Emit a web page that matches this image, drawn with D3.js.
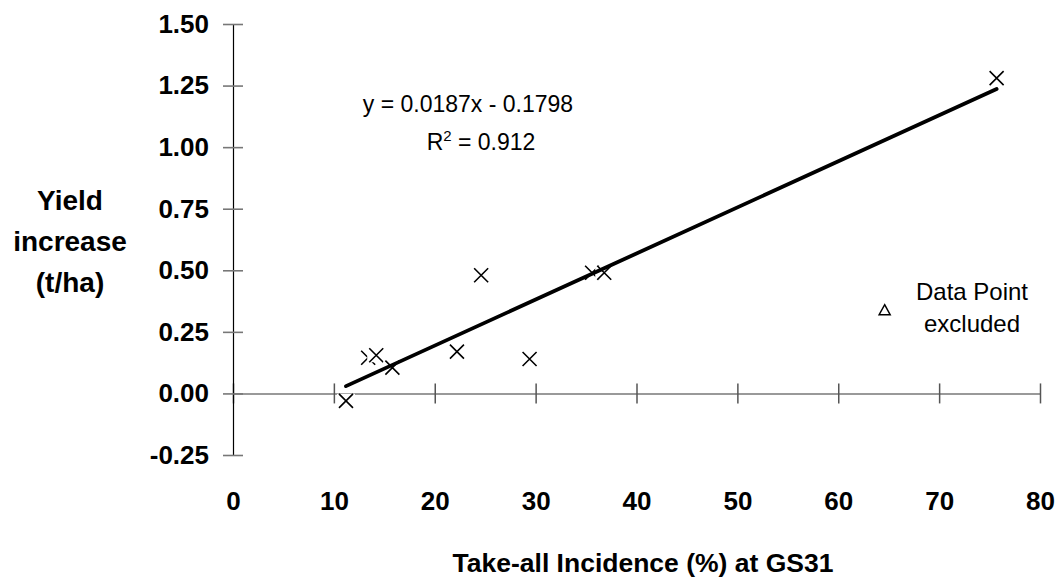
<!DOCTYPE html>
<html>
<head>
<meta charset="utf-8">
<script src="https://cdn.jsdelivr.net/npm/d3@7"></script>
<style>
  body { margin: 0; background: #fff; }
  svg { display: block; font-family: 'Liberation Sans', Arial, sans-serif; }
</style>
</head>
<body>
<svg id="chart" width="1058" height="580"></svg>
<script>
'use strict';

// take-all incidence (%) and yield increase (t/ha)
var incidence = [11.2, 13.4, 14.2, 15.8, 22.2, 24.6, 29.4, 35.6, 36.8, 75.7];
var yieldInc = [-0.03, 0.145, 0.155, 0.105, 0.17, 0.48, 0.14, 0.49, 0.49, 1.28];
var excludedX = [64.6];
var excludedY = [0.34];
var xTicks = [0, 10, 20, 30, 40, 50, 60, 70, 80];
var yTicks = [-0.25, 0, 0.25, 0.5, 0.75, 1.0, 1.25, 1.5];
var slope = 0.0187, intercept = -0.1798;

var svg = d3.select('#chart');

var x = d3.scaleLinear().domain([0, 80]).range([233, 1040]);
var y = d3.scaleLinear().domain([-0.25, 1.5]).range([455, 24]);

// x axis through y = 0, ticks crossing the line
var gx = svg.append('g')
  .attr('transform', 'translate(0,' + y(0) + ')')
  .call(d3.axisBottom(x).tickValues(xTicks).tickSizeOuter(0).tickFormat(''));
gx.select('.domain').attr('stroke', '#777').attr('stroke-width', 1.6);
gx.selectAll('.tick line').attr('y1', -10).attr('y2', 10)
  .attr('stroke', '#555').attr('stroke-width', 1.5);

// y axis at x = 0
var gy = svg.append('g')
  .attr('transform', 'translate(' + x(0) + ',0)')
  .call(d3.axisLeft(y).tickValues(yTicks).tickSizeOuter(0).tickFormat(''));
gy.select('.domain').attr('stroke', '#000').attr('stroke-width', 1.2);
gy.selectAll('.tick line').attr('x1', -10).attr('x2', 10)
  .attr('stroke', '#777').attr('stroke-width', 1.6);

// tick labels sit away from the axes
var lx = svg.append('g')
  .attr('transform', 'translate(0,492)')
  .call(d3.axisBottom(x).tickValues(xTicks).tickSize(0).tickPadding(0).tickFormat(d3.format('d')));
lx.select('.domain').remove();

var fmt2 = d3.format('.2f');
var ly = svg.append('g')
  .attr('transform', 'translate(209,0)')
  .call(d3.axisLeft(y).tickValues(yTicks).tickSize(0).tickPadding(0)
    .tickFormat(function (d) { return fmt2(d).replace('\u2212', '-'); }));
ly.select('.domain').remove();

svg.selectAll('.tick text')
  .attr('fill', '#000')
  .style('font-size', '26px')
  .style('font-weight', 'bold')
  .style('font-family', "'Liberation Sans', Arial, sans-serif");

// points: white box behind each cross, like the original
var pts = d3.range(incidence.length).map(function (i) {
  return { x: incidence[i], y: yieldInc[i] };
});
var mk = svg.append('g').selectAll('g').data(pts).join('g')
  .attr('transform', function (d) { return 'translate(' + x(d.x) + ',' + y(d.y) + ')'; });
mk.append('rect')
  .attr('x', -9).attr('y', -7).attr('width', 18).attr('height', 14)
  .attr('fill', '#fff');
mk.append('path')
  .attr('d', 'M-7,-7L7,7M-7,7L7,-7')
  .attr('stroke', '#000').attr('stroke-width', 1.6).attr('fill', 'none');

// excluded point
svg.append('g').selectAll('path').data(excludedX).join('path')
  .attr('transform', function (d, i) { return 'translate(' + x(d) + ',' + y(excludedY[i]) + ')'; })
  .attr('d', 'M0,-5L5.5,5L-5.5,5Z')
  .attr('fill', '#fff').attr('stroke', '#000').attr('stroke-width', 1.5);

// trend line over the fitted range
var xr = d3.extent(incidence);
var line = d3.line()
  .x(function (d) { return x(d); })
  .y(function (d) { return y(slope * d + intercept); });
svg.append('path')
  .datum(xr)
  .attr('d', line)
  .attr('fill', 'none')
  .attr('stroke', '#000')
  .attr('stroke-width', 3.8)
  .attr('stroke-linecap', 'round');

// equation
var eq = svg.append('g').style('font-size', '23px').attr('fill', '#000');
eq.append('text').attr('x', 468).attr('y', 112).attr('text-anchor', 'middle')
  .text('y = 0.0187x - 0.1798');
var r2 = eq.append('text').attr('x', 481).attr('y', 150).attr('text-anchor', 'middle');
r2.append('tspan').text('R');
r2.append('tspan').attr('dy', -9).style('font-size', '15px').text('2');
r2.append('tspan').attr('dy', 9).text(' = 0.912');

// note for the excluded point
var note = svg.append('text').attr('text-anchor', 'middle').style('font-size', '24px').attr('fill', '#000');
note.append('tspan').attr('x', 972).attr('y', 300).text('Data Point');
note.append('tspan').attr('x', 972).attr('y', 332).text('excluded');

// axis titles
svg.append('text')
  .attr('x', 643).attr('y', 572)
  .attr('text-anchor', 'middle')
  .style('font-size', '26.5px').style('font-weight', 'bold')
  .text('Take-all Incidence (%) at GS31');

var yt = svg.append('text').attr('text-anchor', 'middle')
  .style('font-size', '28px').style('font-weight', 'bold');
['Yield', 'increase', '(t/ha)'].forEach(function (s, i) {
  yt.append('tspan').attr('x', 70).attr('y', 210 + i * 41).text(s);
});
</script>
</body>
</html>
